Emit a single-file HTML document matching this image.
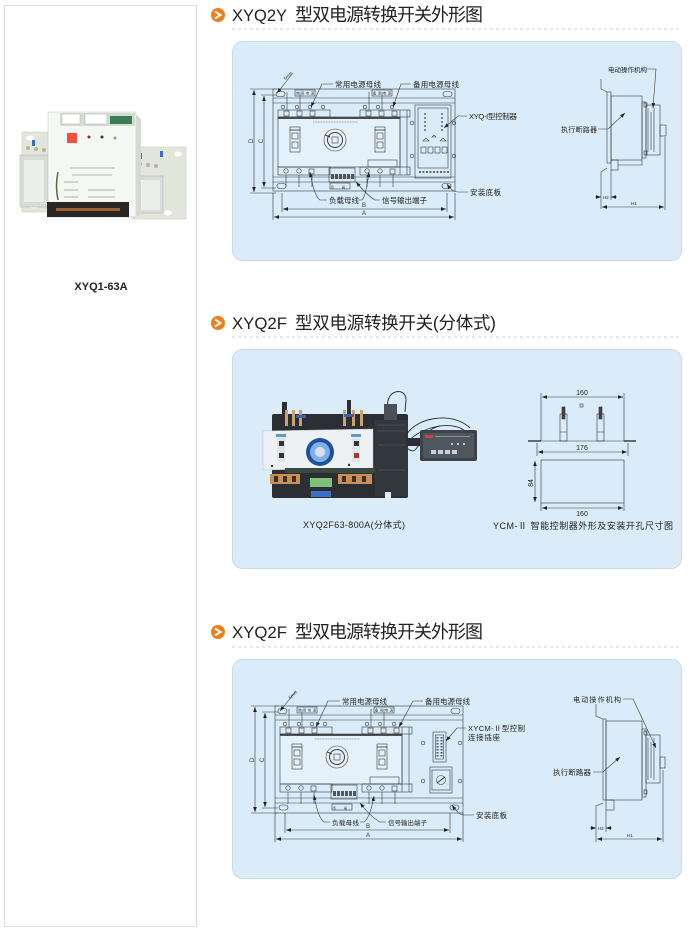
<!DOCTYPE html>
<html><head><meta charset="utf-8">
<style>
html,body{margin:0;padding:0;background:#fff;}
svg{display:block;}
text{font-family:"Liberation Sans","Noto Sans CJK SC",sans-serif;}
</style></head><body>
<svg width="700" height="933" viewBox="0 0 700 933" xmlns="http://www.w3.org/2000/svg">
<defs>
<marker id="ar" viewBox="0 0 6 6" markerWidth="5" markerHeight="5" refX="6" refY="3" orient="auto-start-reverse" markerUnits="userSpaceOnUse"><path d="M0,0.8 L6,3 L0,5.2z" fill="#222"/></marker>
<g id="fv" fill="none" stroke="#3a3a3a" stroke-width="0.6">
  <rect x="22" y="1" width="20" height="6"/>
  <rect x="99" y="1" width="20" height="6"/>
  <path d="M14,3V21M27,3V21M96,3V21M109,3V21"/>
  <circle cx="10" cy="18" r="1.8"/><circle cx="24" cy="18" r="1.8"/><circle cx="37" cy="18" r="1.8"/><circle cx="50" cy="18" r="1.8"/>
  <circle cx="92" cy="18" r="1.8"/><circle cx="105" cy="18" r="1.8"/><circle cx="119" cy="18" r="1.8"/>
  <rect x="5" y="21" width="52" height="7"/>
  <rect x="87" y="21" width="50" height="7"/>
  <rect x="11" y="22" width="5" height="5"/><rect x="24" y="22" width="5" height="5"/><rect x="37" y="22" width="5" height="5"/>
  <rect x="93" y="22" width="5" height="5"/><rect x="106" y="22" width="5" height="5"/><rect x="119" y="22" width="5" height="5"/>
  <rect x="5" y="28" width="122" height="50" fill="#e4f1fb"/>
  <line x1="5" y1="29" x2="127" y2="29" stroke-width="1.8"/>
  <line x1="40" y1="33" x2="85" y2="33" stroke="#888" stroke-width="0.8" stroke-dasharray="1,0.6"/>
  <path d="M127,21V86M134,21V86"/>
  <circle cx="62" cy="51" r="11"/>
  <circle cx="62" cy="51" r="7.5" stroke-width="1"/>
  <rect x="59" y="48" width="6" height="6"/>
  <path d="M52,46 L57,48" stroke-width="1.2"/>
  <rect x="17" y="38" width="10" height="3"/>
  <rect x="17" y="41" width="10" height="22"/>
  <rect x="19" y="44" width="6" height="6"/><rect x="19" y="53" width="6" height="6"/>
  <rect x="102" y="38" width="10" height="3"/>
  <rect x="102" y="41" width="10" height="22"/>
  <rect x="104" y="44" width="6" height="6"/><rect x="104" y="53" width="6" height="6"/>
  <rect x="95" y="71" width="29" height="7"/>
  <rect x="5" y="78" width="52" height="8"/>
  <rect x="87" y="78" width="50" height="8"/>
  <circle cx="13" cy="82" r="2.2"/><circle cx="26" cy="82" r="2.2"/><rect x="36" y="80" width="5" height="5"/>
  <circle cx="94" cy="82" r="2.2"/><circle cx="107" cy="82" r="2.2"/><rect x="117" y="80" width="5" height="5"/>
  <rect x="56" y="79" width="26" height="14"/>
  <g fill="#555" stroke="none"><rect x="58" y="85" width="3" height="5"/><rect x="62" y="85" width="3" height="5"/><rect x="66" y="85" width="3" height="5"/><rect x="70" y="85" width="3" height="5"/><rect x="74" y="85" width="3" height="5"/><rect x="78" y="85" width="3" height="5"/></g>
  <path d="M13,86V98M26,86V98M39,86V98M94,86V98M107,86V98M120,86V98"/>
</g>
</defs>

<!-- left panel -->
<rect x="4.5" y="5.5" width="192" height="921" fill="#fff" stroke="#dcdcdc"/>
<g>
  <rect x="22" y="132" width="30" height="80" fill="#e2e6da" stroke="#cdd0c4" stroke-width="0.6"/>
  <rect x="132" y="147" width="54" height="72" fill="#e2e6da" stroke="#cdd0c4" stroke-width="0.6"/>
  <ellipse cx="30" cy="138" rx="4" ry="2.5" fill="#fff"/>
  <ellipse cx="34" cy="206" rx="4" ry="2.5" fill="#fff"/>
  <ellipse cx="178" cy="154" rx="4" ry="2.5" fill="#fff"/>
  <ellipse cx="168" cy="213" rx="4" ry="2.5" fill="#fff"/>
  <circle cx="28" cy="148" r="2" fill="#b8b59a"/><circle cx="36" cy="149" r="2" fill="#b8b59a"/><circle cx="44" cy="150" r="2" fill="#b8b59a"/>
  <rect x="32" y="140" width="3" height="6" fill="#3a6fd0"/>
  <rect x="20" y="155" width="28" height="52" fill="#d9dcd6" stroke="#b8bbb5" stroke-width="0.6"/>
  <rect x="24" y="160" width="20" height="42" fill="#eceeeb"/>
  <circle cx="140" cy="164" r="2" fill="#b8b59a"/><circle cx="148" cy="165" r="2" fill="#b8b59a"/><circle cx="156" cy="166" r="2" fill="#b8b59a"/>
  <rect x="139" y="153" width="3" height="6" fill="#3a6fd0"/><rect x="160" y="151" width="3" height="6" fill="#3a6fd0"/>
  <rect x="137" y="176" width="26" height="37" fill="#d9dcd6" stroke="#b8bbb5" stroke-width="0.6"/>
  <rect x="140" y="180" width="20" height="30" fill="#eceeeb"/>
  <rect x="48" y="112" width="88" height="105" fill="#f5f7f5" stroke="#c8ccc8" stroke-width="0.6"/>
  <polygon points="136,114 141,119 141,214 136,217" fill="#d6d9d3"/>
  <rect x="60" y="113" width="75" height="13" fill="#d5ddd2"/>
  <rect x="62" y="114" width="18" height="10" fill="#fff" stroke="#aaa" stroke-width="0.5"/>
  <rect x="85" y="114" width="22" height="10" fill="#fff" stroke="#aaa" stroke-width="0.5"/>
  <rect x="110" y="116" width="22" height="8" fill="#3d7a56"/>
  <rect x="67" y="133" width="10" height="10" fill="#f0513a"/>
  <circle cx="89" cy="137" r="1.5" fill="#a22"/><circle cx="102" cy="137" r="1.5" fill="#333"/><circle cx="115" cy="138" r="1.5" fill="#996"/>
  <g stroke="#999" stroke-width="0.8"><line x1="70" y1="168" x2="115" y2="168"/><line x1="72" y1="175" x2="112" y2="175"/><line x1="64" y1="182" x2="78" y2="182"/><line x1="64" y1="190" x2="78" y2="190"/><line x1="88" y1="190" x2="115" y2="190"/><line x1="64" y1="197" x2="78" y2="197"/><line x1="88" y1="197" x2="115" y2="197"/></g>
  <path d="M58,172 Q55,186 58,200" stroke="#5a6a40" stroke-width="1.5" fill="none"/>
  <rect x="47" y="202" width="82" height="15" fill="#2a2623"/>
  <rect x="56" y="208" width="64" height="3" fill="#b8703a" opacity="0.8"/>
</g>
<text x="101" y="290" text-anchor="middle" font-size="11" font-weight="bold" fill="#222">XYQ1-63A</text>

<!-- headings -->
<g>
  <circle cx="218" cy="15" r="7" fill="#f07d1a"/>
  <path d="M215,11.5 L220.5,15 L215,18.5" stroke="#fff" stroke-width="2" fill="none"/>
  <text x="232" y="21" font-size="17" fill="#222" textLength="55" lengthAdjust="spacingAndGlyphs">XYQ2Y</text>
  <text x="295" y="21" font-size="18" fill="#222" textLength="188">型双电源转换开关外形图</text>
  <line x1="232" y1="29" x2="680" y2="29" stroke="#cfcfcf" stroke-dasharray="3,3"/>

  <circle cx="218" cy="323" r="7" fill="#f07d1a"/>
  <path d="M215,319.5 L220.5,323 L215,326.5" stroke="#fff" stroke-width="2" fill="none"/>
  <text x="232" y="329" font-size="17" fill="#222" textLength="55" lengthAdjust="spacingAndGlyphs">XYQ2F</text>
  <text x="295" y="329" font-size="17.5" fill="#222" textLength="201">型双电源转换开关(分体式)</text>
  <line x1="232" y1="337" x2="680" y2="337" stroke="#cfcfcf" stroke-dasharray="3,3"/>

  <circle cx="218" cy="632" r="7" fill="#f07d1a"/>
  <path d="M215,628.5 L220.5,632 L215,635.5" stroke="#fff" stroke-width="2" fill="none"/>
  <text x="232" y="638" font-size="17" fill="#222" textLength="55" lengthAdjust="spacingAndGlyphs">XYQ2F</text>
  <text x="295" y="638" font-size="18" fill="#222" textLength="188">型双电源转换开关外形图</text>
  <line x1="232" y1="647" x2="680" y2="647" stroke="#cfcfcf" stroke-dasharray="3,3"/>
</g>

<!-- blue boxes -->
<rect x="232.5" y="41.5" width="449" height="219" rx="10" fill="#daecf9" stroke="#c6dbeb"/>
<rect x="232.5" y="349.5" width="449" height="219" rx="10" fill="#daecf9" stroke="#c6dbeb"/>
<rect x="232.5" y="659.5" width="449" height="219" rx="10" fill="#daecf9" stroke="#c6dbeb"/>

<!-- ===== Section 1 front view ===== -->
<g transform="translate(273,89)" fill="none" stroke="#3a3a3a" stroke-width="0.6">
  <rect x="0" y="0" width="182" height="102"/>
  <path d="M0,9H182M0,14H182M0,88H182M0,93H182"/>
  <rect x="3" y="2.5" width="9" height="5" rx="2.5"/>
  <rect x="170" y="2.5" width="9" height="5" rx="2.5"/>
  <rect x="4" y="94.5" width="9" height="5" rx="2.5"/>
  <rect x="169" y="94.5" width="9" height="5" rx="2.5"/>
  <rect x="57" y="94" width="20" height="6"/>
  <use href="#fv"/>
  <rect x="142" y="16" width="36" height="73"/>
  <rect x="145" y="19" width="30" height="60"/>
  <g fill="#666" stroke="none">
    <circle cx="152" cy="25" r="1"/><circle cx="152" cy="29" r="1"/><circle cx="152" cy="33" r="1"/><circle cx="152" cy="37" r="1"/><circle cx="152" cy="41" r="1"/>
    <circle cx="169" cy="25" r="1"/><circle cx="169" cy="29" r="1"/><circle cx="169" cy="33" r="1"/><circle cx="169" cy="37" r="1"/><circle cx="169" cy="41" r="1"/>
    <rect x="146" y="82" width="2" height="2"/><rect x="149.5" y="82" width="2" height="2"/><rect x="153" y="82" width="2" height="2"/><rect x="156.5" y="82" width="2" height="2"/><rect x="160" y="82" width="2" height="2"/><rect x="163.5" y="82" width="2" height="2"/><rect x="167" y="82" width="2" height="2"/><rect x="170.5" y="82" width="2" height="2"/><rect x="174" y="82" width="2" height="2"/>
  </g>
  <path d="M150,52 l3,-3 l3,3z M167,52 l3,-3 l3,3z M159,48 l2,-2 l2,2z"/>
  <rect x="148" y="58" width="5" height="6"/><rect x="155" y="58" width="5" height="6"/><rect x="162" y="58" width="5" height="6"/><rect x="169" y="58" width="5" height="6"/>
  <circle cx="139" cy="34" r="1.8"/><circle cx="181" cy="34" r="1.8"/><circle cx="139" cy="67" r="1.8"/><circle cx="181" cy="67" r="1.8"/>
</g>
<g font-size="3.2" fill="#333">
  <text x="296" y="94.5" textLength="18">常用电源</text>
  <text x="373" y="94.5" textLength="18">备用电源</text>
  <text x="331" y="188.5" textLength="14">负 载</text>
</g>
<!-- section 1 dimensions -->
<g stroke="#333" stroke-width="0.6" fill="none">
  <path d="M250,89H276M250,193H276M261,95H276M261,188H276"/>
  <path d="M282,193V212M447,193V212M273,193V220M455,193V220"/>
  <line x1="254" y1="90" x2="254" y2="192" marker-start="url(#ar)" marker-end="url(#ar)"/>
  <line x1="264" y1="96" x2="264" y2="187" marker-start="url(#ar)" marker-end="url(#ar)"/>
  <line x1="283" y1="209" x2="446" y2="209" marker-start="url(#ar)" marker-end="url(#ar)"/>
  <line x1="274" y1="217" x2="454" y2="217" marker-start="url(#ar)" marker-end="url(#ar)"/>
  <line x1="293" y1="73" x2="277" y2="93" marker-end="url(#ar)"/>
  <polyline points="333,84 322,84 311,107" marker-end="url(#ar)"/>
  <polyline points="411,84 401,84 393,107" marker-end="url(#ar)"/>
  <polyline points="467,116 458,116 444,128" marker-end="url(#ar)"/>
  <path d="M468,192 H458 Q452,192 447,184" marker-end="url(#ar)"/>
  <path d="M327,200 H320 Q314,196 310,172" marker-end="url(#ar)"/>
  <path d="M359,200 H362 Q366,196 369,172" marker-end="url(#ar)"/>
  <path d="M380,200 H375 Q368,196 356,182" marker-end="url(#ar)"/>
</g>
<g font-size="6" fill="#333">
  <text x="251" y="143" transform="rotate(-90 251 141)" text-anchor="middle">D</text>
  <text x="261" y="143" transform="rotate(-90 261 141)" text-anchor="middle">C</text>
  <text x="364" y="207" text-anchor="middle">B</text>
  <text x="364" y="215" text-anchor="middle">A</text>
  <text x="284" y="81" font-size="4.5" transform="rotate(-45 284 79)">5mm</text>
</g>
<g font-size="7.5" fill="#222">
  <text x="335" y="87" textLength="46">常用电源母线</text>
  <text x="413" y="87" textLength="46">备用电源母线</text>
  <text x="469" y="119" textLength="48">XYQ-I型控制器</text>
  <text x="470" y="195" textLength="31">安装底板</text>
  <text x="329" y="203" textLength="30">负载母线</text>
  <text x="382" y="203" textLength="45">信号输出端子</text>
</g>
<!-- section 1 side view -->
<g fill="none" stroke="#3a3a3a" stroke-width="0.6">
  <path d="M601,79V89L607,92"/>
  <rect x="607" y="92" width="4" height="71"/>
  <rect x="611" y="96" width="31" height="64"/>
  <rect x="642" y="102" width="4" height="56"/>
  <rect x="646" y="105" width="14" height="50"/>
  <path d="M648,108V152M651,112V150M654,108V152"/>
  <rect x="644" y="103" width="3" height="4"/><rect x="644" y="151" width="3" height="4"/>
  <rect x="660" y="125" width="6" height="11"/>
  <rect x="611" y="160" width="7" height="10"/>
  <path d="M618,165H642V160"/>
  <path d="M607,168L601,172V209"/>
  <path d="M611,170V200M665,137V210"/>
  <line x1="595" y1="197" x2="601" y2="197" marker-end="url(#ar)"/>
  <line x1="617" y1="197" x2="611" y2="197" marker-end="url(#ar)"/>
  <line x1="602" y1="207" x2="664" y2="207" marker-start="url(#ar)" marker-end="url(#ar)"/>
  <polyline points="647,69 656,69 653,108" marker-end="url(#ar)"/>
  <polyline points="598,129 608,129 625,113" marker-end="url(#ar)"/>
</g>
<g fill="#222">
  <text x="603" y="199" font-size="4.5">H2</text>
  <text x="631" y="205" font-size="4.5">H1</text>
  <text x="608" y="72" font-size="6.5" textLength="39">电动操作机构</text>
  <text x="561" y="132" font-size="7" textLength="36">执行断路器</text>
</g>

<!-- ===== Section 2 ===== -->
<g>
  <path d="M388,407 C385,390 406,386 406,400 L405,412" stroke="#333" stroke-width="1" fill="none"/>
  <rect x="272" y="414" width="136" height="84" rx="2" fill="#2b2f33"/>
  <rect x="282" y="402" width="5" height="14" fill="#2b2f33"/>
  <rect x="347" y="400" width="4" height="16" fill="#2b2f33"/>
  <g fill="#c9a36b"><rect x="285" y="410" width="3" height="16"/><rect x="292" y="410" width="3" height="16"/><rect x="299" y="410" width="3" height="16"/><rect x="343" y="410" width="3" height="16"/><rect x="352" y="410" width="3" height="16"/><rect x="360" y="410" width="3" height="16"/></g>
  <rect x="296" y="415" width="10" height="3" fill="#3c5fb0"/><rect x="344" y="414" width="10" height="3" fill="#3c5fb0"/>
  <polygon points="263,431 373,429 373,468 263,470" fill="#eef1f4" stroke="#bcc4cc" stroke-width="0.5"/>
  <rect x="285" y="468" width="90" height="5" fill="#3a4a40"/>
  <circle cx="320" cy="452" r="14" fill="#1f4fa0"/>
  <circle cx="320" cy="452" r="10" fill="#7fb0e6"/>
  <circle cx="320" cy="452" r="5" fill="#d5e0ea"/>
  <rect x="276" y="434" width="10" height="3" fill="#5b9bd5"/>
  <rect x="277" y="438" width="8" height="24" fill="#dde4ea"/>
  <rect x="279" y="441" width="5" height="5" fill="#333"/><rect x="279" y="453" width="5" height="5" fill="#333"/>
  <rect x="351" y="434" width="10" height="3" fill="#5b9bd5"/>
  <rect x="352" y="438" width="8" height="24" fill="#dde4ea"/>
  <rect x="354" y="441" width="5" height="5" fill="#333"/><rect x="354" y="453" width="5" height="5" fill="#a33"/>
  <circle cx="272" cy="466" r="1.2" fill="#333"/><circle cx="349" cy="465" r="1.2" fill="#333"/>
  <rect x="375" y="420" width="33" height="76" fill="#33383d"/>
  <g stroke="#5a6168" stroke-width="0.6"><line x1="378" y1="425" x2="405" y2="425"/><line x1="378" y1="431" x2="405" y2="431"/><line x1="378" y1="445" x2="405" y2="445"/><line x1="378" y1="470" x2="405" y2="470"/></g>
  <rect x="384" y="404" width="13" height="16" fill="#4a5058"/>
  <rect x="270" y="474" width="30" height="10" fill="#c98f55"/>
  <rect x="338" y="474" width="34" height="10" fill="#c98f55"/>
  <g fill="#3a3020"><rect x="274" y="476" width="4" height="6"/><rect x="283" y="476" width="4" height="6"/><rect x="292" y="476" width="4" height="6"/><rect x="342" y="476" width="4" height="6"/><rect x="352" y="476" width="4" height="6"/><rect x="362" y="476" width="4" height="6"/></g>
  <rect x="310" y="478" width="22" height="9" fill="#7fc07a"/>
  <rect x="311" y="491" width="20" height="6" fill="#3d6fc9"/>
  <rect x="385" y="492" width="6" height="6" fill="#e6ebef"/>
  <g stroke="#2a2e33" stroke-width="0.9" fill="none">
    <path d="M405,438 C412,418 452,410 470,428"/>
    <path d="M406,444 C418,428 448,420 464,430"/>
    <path d="M407,448 C420,460 418,430 440,426"/>
  </g>
  <rect x="406" y="438" width="15" height="8" fill="#2b2f33"/>
  <rect x="420" y="430" width="57" height="31" rx="2" fill="#3d4349"/>
  <rect x="423" y="433" width="51" height="25" fill="#4e565e"/>
  <rect x="425" y="435" width="8" height="3" fill="#d04040"/>
  <line x1="435" y1="436.5" x2="470" y2="436.5" stroke="#9aa" stroke-width="0.8"/>
  <g fill="#ccd"><rect x="431" y="450" width="5" height="4"/><rect x="438" y="450" width="5" height="4"/><rect x="445" y="450" width="5" height="4"/><rect x="452" y="450" width="5" height="4"/></g>
  <g fill="#eee"><circle cx="452" cy="444" r="1"/><circle cx="458" cy="444" r="1"/><circle cx="464" cy="444" r="1"/></g>
</g>
<text x="354" y="528" text-anchor="middle" font-size="9" fill="#222" textLength="102">XYQ2F63-800A(分体式)</text>
<!-- section 2 right -->
<g stroke="#333" stroke-width="0.6" fill="none">
  <path d="M541,393V441M624,393V441"/>
  <line x1="542" y1="397" x2="623" y2="397" marker-start="url(#ar)" marker-end="url(#ar)"/>
  <line x1="541" y1="441" x2="624" y2="441"/>
  <line x1="528" y1="441" x2="541" y2="441" stroke-width="1.4"/>
  <line x1="624" y1="441" x2="636" y2="441" stroke-width="1.4"/>
  <rect x="580" y="404" width="3" height="3"/>
  <rect x="560" y="414" width="7" height="27"/>
  <rect x="597" y="414" width="7" height="27"/>
  <path d="M560,432H567M597,432H604"/>
  <rect x="562" y="407" width="3" height="12" fill="#444"/>
  <rect x="599" y="407" width="3" height="12" fill="#444"/>
  <path d="M537,443V456M628,443V456"/>
  <line x1="538" y1="452" x2="627" y2="452" marker-start="url(#ar)" marker-end="url(#ar)"/>
  <rect x="541" y="460" width="83" height="43"/>
  <line x1="535" y1="461" x2="535" y2="502" marker-start="url(#ar)" marker-end="url(#ar)"/>
  <path d="M541,503V511M624,503V511"/>
  <line x1="542" y1="508" x2="623" y2="508" marker-start="url(#ar)" marker-end="url(#ar)"/>
</g>
<g font-size="7" fill="#222" text-anchor="middle">
  <text x="582" y="395">160</text>
  <text x="582" y="450">176</text>
  <text x="531" y="485" transform="rotate(-90 531 483)">84</text>
  <text x="582" y="516">160</text>
</g>
<text x="493" y="529" font-size="9" fill="#222" textLength="180">YCM-Ⅱ 智能控制器外形及安装开孔尺寸图</text>

<!-- ===== Section 3 front view ===== -->
<g transform="translate(275,706)" fill="none" stroke="#3a3a3a" stroke-width="0.6">
  <rect x="0" y="0" width="188" height="107"/>
  <path d="M0,9H188M0,14H188M0,92H188M0,97H188"/>
  <rect x="3" y="2.5" width="9" height="5" rx="2.5"/>
  <rect x="176" y="2.5" width="9" height="5" rx="2.5"/>
  <rect x="4" y="99" width="9" height="5" rx="2.5"/>
  <rect x="175" y="99" width="9" height="5" rx="2.5"/>
  <rect x="57" y="98" width="20" height="6"/>
  <use href="#fv"/>
  <rect x="158" y="26" width="13" height="30"/>
  <rect x="160.5" y="29" width="8" height="24"/>
  <g fill="#555" stroke="none">
    <rect x="161.5" y="31" width="2" height="1.5"/><rect x="165.5" y="31" width="2" height="1.5"/>
    <rect x="161.5" y="34" width="2" height="1.5"/><rect x="165.5" y="34" width="2" height="1.5"/>
    <rect x="161.5" y="37" width="2" height="1.5"/><rect x="165.5" y="37" width="2" height="1.5"/>
    <rect x="161.5" y="40" width="2" height="1.5"/><rect x="165.5" y="40" width="2" height="1.5"/>
    <rect x="161.5" y="43" width="2" height="1.5"/><rect x="165.5" y="43" width="2" height="1.5"/>
    <rect x="161.5" y="46" width="2" height="1.5"/><rect x="165.5" y="46" width="2" height="1.5"/>
    <rect x="161.5" y="49" width="2" height="1.5"/><rect x="165.5" y="49" width="2" height="1.5"/>
  </g>
  <rect x="155" y="61" width="22" height="26"/>
  <rect x="157" y="64" width="18" height="20"/>
  <circle cx="166" cy="74" r="4.5"/>
  <path d="M162,77 L170,71" stroke-width="1"/>
  <circle cx="148" cy="37" r="1.8"/><circle cx="185" cy="37" r="1.8"/><circle cx="148" cy="75" r="1.8"/><circle cx="185" cy="75" r="1.8"/>
</g>
<g font-size="3.2" fill="#333">
  <text x="298" y="711.5" textLength="18">常用电源</text>
  <text x="375" y="711.5" textLength="18">备用电源</text>
  <text x="333" y="809.5" textLength="14">负 载</text>
</g>
<g stroke="#333" stroke-width="0.6" fill="none">
  <path d="M251,706H278M251,813H278M262,712H278M262,808H278"/>
  <path d="M285,813V833M450,813V833M275,813V842M463,813V842"/>
  <line x1="255" y1="707" x2="255" y2="812" marker-start="url(#ar)" marker-end="url(#ar)"/>
  <line x1="265" y1="713" x2="265" y2="807" marker-start="url(#ar)" marker-end="url(#ar)"/>
  <line x1="286" y1="830" x2="449" y2="830" marker-start="url(#ar)" marker-end="url(#ar)"/>
  <line x1="276" y1="839" x2="462" y2="839" marker-start="url(#ar)" marker-end="url(#ar)"/>
  <line x1="296" y1="691" x2="280" y2="711" marker-end="url(#ar)"/>
  <polyline points="340,701 328,701 316,727" marker-end="url(#ar)"/>
  <polyline points="423,701 413,701 399,727" marker-end="url(#ar)"/>
  <polyline points="466,728 457,728 446,741" marker-end="url(#ar)"/>
  <path d="M474,815 H463 Q458,814 452,805" marker-end="url(#ar)"/>
  <path d="M330,822 H324 Q318,818 314,795" marker-end="url(#ar)"/>
  <path d="M360,822 H364 Q370,818 374,796" marker-end="url(#ar)"/>
  <path d="M386,822 H380 Q372,818 360,803" marker-end="url(#ar)"/>
</g>
<g font-size="6" fill="#333">
  <text x="252" y="762" transform="rotate(-90 252 760)" text-anchor="middle">D</text>
  <text x="262" y="762" transform="rotate(-90 262 760)" text-anchor="middle">C</text>
  <text x="368" y="828" text-anchor="middle">B</text>
  <text x="368" y="837" text-anchor="middle">A</text>
  <text x="289" y="700" font-size="4.5" transform="rotate(-45 289 698)">5mm</text>
</g>
<g font-size="7.5" fill="#222">
  <text x="342" y="704" textLength="45">常用电源母线</text>
  <text x="425" y="704" textLength="45">备用电源母线</text>
  <text x="468" y="731" textLength="57">XYCM-Ⅱ型控制</text>
  <text x="468" y="740" textLength="32">连接插座</text>
  <text x="476" y="818" textLength="31">安装底板</text>
  <text x="332" y="825" font-size="6.5" textLength="27">负载母线</text>
  <text x="388" y="825" font-size="6.5" textLength="39">信号输出端子</text>
</g>
<!-- section 3 side view -->
<g fill="none" stroke="#3a3a3a" stroke-width="0.6">
  <path d="M596,704V716L603,719"/>
  <rect x="603" y="719" width="3" height="81"/>
  <rect x="606" y="721" width="36" height="79"/>
  <rect x="642" y="729" width="4" height="68"/>
  <rect x="646" y="735" width="14" height="48"/>
  <path d="M648,738V780M651,742V778M654,738V780"/>
  <rect x="644" y="731" width="3" height="4"/><rect x="644" y="790" width="3" height="4"/>
  <rect x="660" y="757" width="5" height="11"/>
  <rect x="606" y="800" width="8" height="10"/>
  <path d="M603,803L596,806V842"/>
  <path d="M606,810V832M663,770V842"/>
  <line x1="590" y1="828" x2="596" y2="828" marker-end="url(#ar)"/>
  <line x1="612" y1="828" x2="606" y2="828" marker-end="url(#ar)"/>
  <line x1="597" y1="839" x2="662" y2="839" marker-start="url(#ar)" marker-end="url(#ar)"/>
  <polyline points="623,699 633,699 656,748" marker-end="url(#ar)"/>
  <polyline points="593,772 603,772 620,757" marker-end="url(#ar)"/>
</g>
<g fill="#222">
  <text x="598" y="830" font-size="4.5">H2</text>
  <text x="627" y="837" font-size="4.5">H1</text>
  <text x="573" y="702" font-size="7" textLength="48">电动操作机构</text>
  <text x="553" y="775" font-size="7.5" textLength="38">执行断路器</text>
</g>
</svg>
</body></html>
